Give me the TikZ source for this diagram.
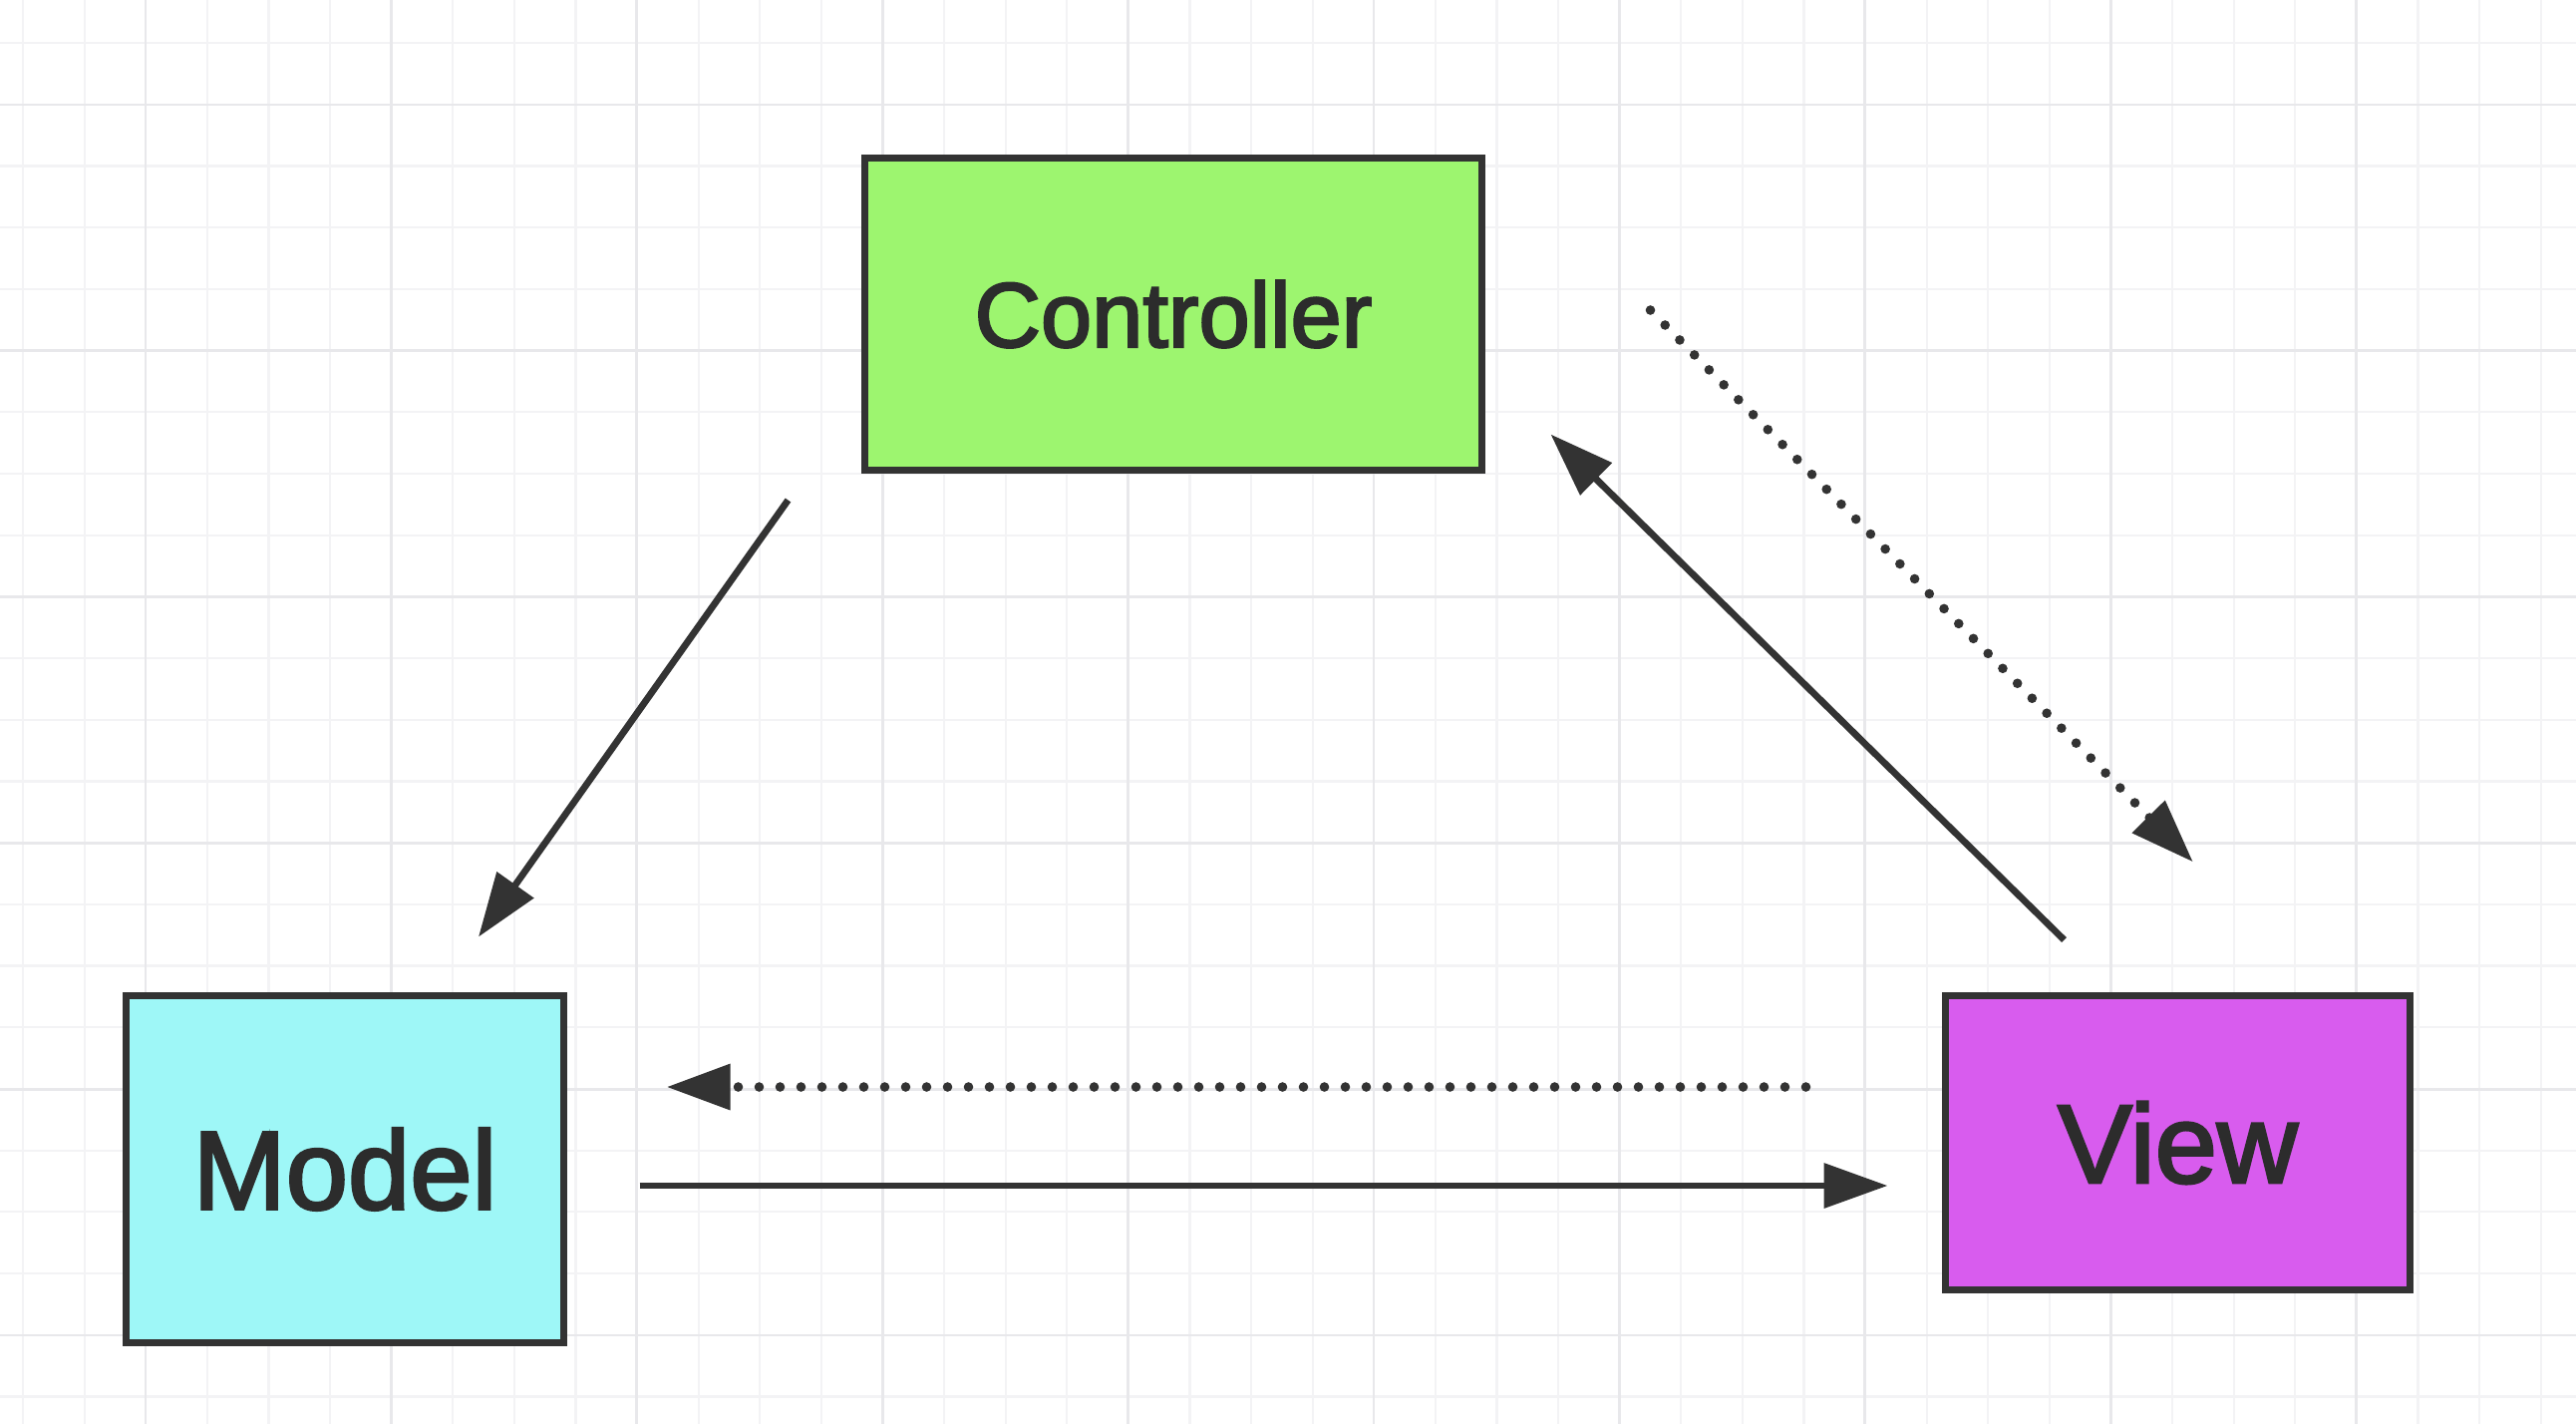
\documentclass[tikz,border=0pt]{standalone}
\usepackage{fontspec}
\setmainfont{Liberation Sans}[FakeBold=3]
\newfontfamily\boxfont{Liberation Sans}[FakeBold=2.5]
\usetikzlibrary{arrows.meta,calc}
\definecolor{gridminor}{HTML}{F3F3F5}
\definecolor{gridmajor}{HTML}{E8E8EB}
\definecolor{ink}{HTML}{333333}
\definecolor{txt}{HTML}{2C2C2C}
\definecolor{ctrlfill}{HTML}{9DF56F}
\definecolor{modelfill}{HTML}{9EF7F7}
\definecolor{viewfill}{HTML}{D85CEE}
\tikzset{
  box/.style={draw=ink, line width=1.7pt, inner sep=0pt, text=txt},
  solidarrow/.style={draw=ink, line width=1.7pt, -{Triangle[length=16pt,width=11pt]}, ink},
  dotarrow/.style={draw=ink, line width=2.4pt, line cap=round, dash pattern=on 0pt off 5.25pt, -{Triangle[length=16pt,width=11pt]}, ink},
}
\begin{document}
\begin{tikzpicture}[x=0.25pt, y=-0.25pt]
\useasboundingbox (0,0) rectangle (2584,1428);
\fill[white] (0,0) rectangle (2584,1428);
% grid
\foreach \k in {0,...,41} {
  \draw[gridminor, line width=0.55pt] ({23+61.6*\k},0) -- ({23+61.6*\k},1428);
}
\foreach \k in {0,...,22} {
  \draw[gridminor, line width=0.55pt] (0,{43+61.7*\k}) -- (2584,{43+61.7*\k});
}
\foreach \k in {0,...,9} {
  \draw[gridmajor, line width=0.7pt] ({146+246.4*\k},0) -- ({146+246.4*\k},1428);
}
\foreach \k in {0,...,5} {
  \draw[gridmajor, line width=0.7pt] (0,{105+246.8*\k}) -- (2584,{105+246.8*\k});
}
% nodes
\node[box, fill=ctrlfill, minimum width=154.8pt, minimum height=78.3pt, font=\boxfont\fontsize{23pt}{27pt}\selectfont] (ctrl) at (1177,315) {Controller};
\node[box, fill=modelfill, minimum width=109.8pt, minimum height=87.05pt, font=\boxfont\fontsize{28pt}{33pt}\selectfont] (model) at (346,1172.5) {Model};
\node[box, fill=viewfill, minimum width=116.55pt, minimum height=73.8pt, font=\boxfont\fontsize{28pt}{33pt}\selectfont] (view) at (2184.5,1146) {View};
% connectors
\draw[solidarrow] ([shift={(-73.5,26.5)}]ctrl.south west) -- ([shift={(134,-55.5)}]model.north);
\draw[solidarrow] ([shift={(122.5,-52.5)}]view.north west) -- ([shift={(65.5,-39.5)}]ctrl.south east);
\draw[dotarrow] ([shift={(165.5,-4)}]ctrl.east) -- ([shift={(15.5,-130.5)}]view.north);
\draw[dotarrow] ([shift={(-136.5,-56)}]view.west) -- ([shift={(99.5,-82.5)}]model.east);
\draw[solidarrow] ([shift={(72.5,16.5)}]model.east) -- ([shift={(-54.5,43)}]view.west);
\end{tikzpicture}
\end{document}
